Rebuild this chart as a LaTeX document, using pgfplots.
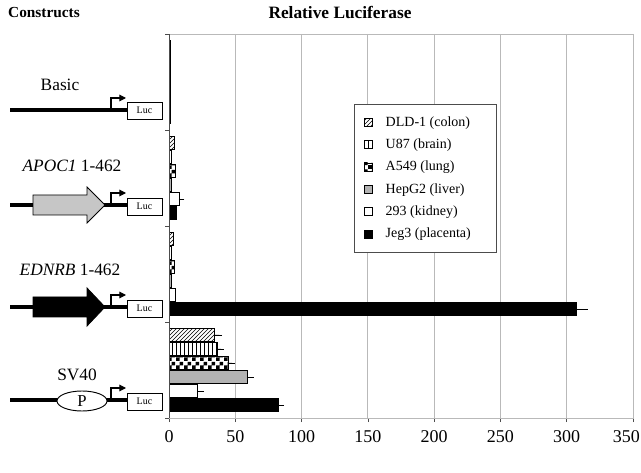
\documentclass[border=0pt]{standalone}
\usepackage{fontspec}
\setmainfont{Liberation Serif}
\usepackage{pgfplots}
\pgfplotsset{compat=1.18}
\usetikzlibrary{patterns,arrows.meta}
\pgfdeclarepatternformonly{finechecker}{\pgfpointorigin}{\pgfqpoint{6pt}{6pt}}{\pgfqpoint{6pt}{6pt}}{%
  \pgfpathrectangle{\pgfpointorigin}{\pgfqpoint{3pt}{3pt}}%
  \pgfpathrectangle{\pgfqpoint{3pt}{3pt}}{\pgfqpoint{3pt}{3pt}}%
  \pgfusepath{fill}}
\begin{document}
\begin{tikzpicture}[x=0.75pt,y=-0.75pt]
\useasboundingbox (0,0) rectangle (641,473);
\begin{axis}[
  at={(126.75pt,-25.5pt)}, anchor=north west,
  scale only axis, width=348pt, height=288pt,
  xmin=0, xmax=350, ymin=-0.5, ymax=3.5, y dir=reverse,
  xtick={0,50,...,350},
  xticklabels={0,50,100,150,200,250,300,\hspace*{-10pt}350},
  ytick={-0.5,0.5,1.5,2.5,3.5}, yticklabels={},
  tick pos=left, tick align=outside,
  major tick length=3pt,
  xmajorgrids, grid style={gray!55, line width=0.6pt},
  axis line style={gray!55, line width=0.6pt},
  tick style={gray!60!black, line width=0.5pt},
  /pgf/number format/assume math mode=true,
  xticklabel style={font=\fontsize{13.5}{16}\selectfont, yshift=-2.5pt},
  xbar, bar width=0.14,
  every axis plot/.append style={draw=black, line width=0.5pt},
  error bars/error bar style={black, line width=0.5pt},
  error bars/error mark options={black, line width=0.5pt, mark size=2pt},
  legend style={at={(0.399,0.818)}, anchor=north west, draw=gray!60!black, line width=0.6pt,
    font=\fontsize{10.5}{12}\selectfont, row sep=4pt, inner xsep=7pt, inner ysep=7pt,
    /tikz/every odd column/.append style={column sep=8pt}},
  legend cell align=left,
  legend image code/.code={\draw[#1, line width=0.4pt] (0pt,-3pt) rectangle (6pt,3pt);},
]
\addplot[bar shift=-0.365, pattern=north east lines, error bars/.cd, x dir=plus, x explicit]
  coordinates {(1,0) (4,1) (3,2) (34.5,3) +- (3.5,0)};
\addplot[bar shift=-0.219, pattern=vertical lines, error bars/.cd, x dir=plus, x explicit]
  coordinates {(1,0) (2,1) (2,2) (36.3,3) +- (3,0)};
\addplot[bar shift=-0.073, pattern=finechecker, error bars/.cd, x dir=plus, x explicit]
  coordinates {(1,0) (5,1) (4,2) (44.6,3) +- (3,0)};
\addplot[bar shift=0.073, fill=gray!60, error bars/.cd, x dir=plus, x explicit]
  coordinates {(1,0) (2,1) (2,2) (58.9,3) +- (3,0)};
\addplot[bar shift=0.219, fill=white, error bars/.cd, x dir=plus, x explicit]
  coordinates {(1,0) (7.5,1) +- (2,0) (5,2) (21.4,3) +- (3,0)};
\addplot[bar shift=0.365, fill=black, error bars/.cd, x dir=plus, x explicit]
  coordinates {(1,0) (5.5,1) (307,2) +- (7,0) (82.3,3) +- (2.5,0)};
\legend{DLD-1 (colon), U87 (brain), A549 (lung), HepG2 (liver), 293 (kidney), \makebox[74pt][l]{Jeg3 (placenta)}}
\draw[gray!60!black, line width=0.7pt] (rel axis cs:0,0) -- (rel axis cs:0,1);
\end{axis}
% titles
\node[font=\bfseries\fontsize{11.5}{14}\selectfont] at (44,13) {Constructs};
\node[font=\bfseries\fontsize{13}{15}\selectfont] at (340,13) {Relative Luciferase};
% construct labels
\begin{scope}[every node/.style={font=\fontsize{13}{15}\selectfont}]
\node at (60,85) {Basic};
\node at (72,166) {\textit{APOC1} 1-462};
\node at (70,270) {\textit{EDNRB} 1-462};
\node at (77,375) {SV40};
\end{scope}
% Basic
\draw[line width=3pt] (10,110) -- (127,110);
% APOC1
\draw[line width=3pt] (10,205) -- (127,205);
\draw[fill=gray!45, line width=0.6pt] (33,195) -- (87,195) -- (87,187) -- (105,205) -- (87,223) -- (87,215) -- (33,215) -- cycle;
% EDNRB
\draw[line width=3pt] (10,307) -- (127,307);
\draw[fill=black, line width=0.6pt] (33,297) -- (87,297) -- (87,288) -- (105,307) -- (87,326) -- (87,317) -- (33,317) -- cycle;
% SV40
\draw[line width=3pt] (10,400) -- (127,400);
\draw[fill=white, line width=0.7pt] (82,401) ellipse [x radius=25, y radius=10];
\node[font=\fontsize{12.5}{15}\selectfont] at (82,401) {P};
% promoter arrows and Luc boxes
\foreach \yy/\top/\bx in {110/98/102, 205/193/198, 307/295/300, 400/388/393}{
  \draw[line width=0.8pt, -{Triangle[length=5pt,width=5pt]}] (111,\yy) -- (111,\top) -- (126,\top);
  \draw[line width=0.6pt, fill=white] (127,\bx) rectangle (162,\bx+17);
  \node[font=\fontsize{7.5}{9}\selectfont] at (144.5,\bx+8.5) {Luc};
}
\end{tikzpicture}
\end{document}
